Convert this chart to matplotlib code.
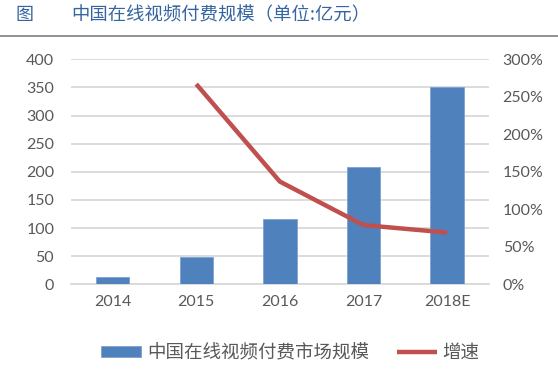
import matplotlib
matplotlib.use('Agg')
import matplotlib.pyplot as plt
from matplotlib.ticker import FuncFormatter

plt.rcParams['font.family'] = ['Lato', 'Noto Sans CJK SC', 'DejaVu Sans']

years = ['2014', '2015', '2016', '2017', '2018E']
market_size = [13, 49, 116, 208, 351]     # 亿元
growth_years = ['2015', '2016', '2017', '2018E']
growth = [2.67, 1.37, 0.79, 0.69]         # 增速

fig = plt.figure(figsize=(5.58, 3.70), dpi=100)
ax = fig.add_axes([0.127, 0.2316, 0.749, 0.6081])
ax2 = ax.twinx()

x = list(range(len(years)))
ax.bar(x, market_size, width=0.4, color='#4f81bd', edgecolor='#7da3d1',
       linewidth=0.6, label='中国在线视频付费市场规模', zorder=3)
gx = [years.index(y) for y in growth_years]
ax2.plot(gx, growth, color='#c0504d', lw=3.2, solid_capstyle='butt',
         label='增速', zorder=4)

ax.set_xlim(-0.5, len(years) - 0.5)
ax.set_ylim(0, 400)
ax.set_yticks(range(0, 401, 50))
ax2.set_ylim(0, 3)
ax2.set_yticks([0, 0.5, 1, 1.5, 2, 2.5, 3])
ax2.yaxis.set_major_formatter(FuncFormatter(lambda v, p: f'{v*100:.0f}%'))
ax.set_xticks(x)
ax.set_xticklabels(years)

ax.grid(axis='y', color='#d9d9d9', lw=1.3, zorder=0)
ax.set_axisbelow(True)
for a in (ax, ax2):
    for s in a.spines.values():
        s.set_visible(False)
    a.tick_params(length=0, labelsize=11.5, labelcolor='#595959')
ax.spines['bottom'].set_visible(True)
ax.spines['bottom'].set_color('#d9d9d9')
ax.spines['bottom'].set_linewidth(1.3)
ax.tick_params(axis='y', pad=12)
ax.tick_params(axis='x', pad=8)
ax2.tick_params(axis='y', pad=10)

h1, l1 = ax.get_legend_handles_labels()
h2, l2 = ax2.get_legend_handles_labels()
fig.legend(h1 + h2, l1 + l2, loc='center', bbox_to_anchor=(0.52, 0.048),
           ncol=2, frameon=False, fontsize=13.3, handlelength=2.2,
           handleheight=0.5, handletextpad=0.3, columnspacing=1.5,
           labelcolor='#595959')

# title
fig.text(0.027, 0.96, '图', fontsize=13, color='#3565a0',
         family=['Noto Sans CJK SC'], va='center')
fig.text(0.128, 0.96, '中国在线视频付费规模（单位:亿元）', fontsize=13.2,
         color='#3565a0', family=['Noto Sans CJK SC', 'DejaVu Sans'],
         va='center')
fig.add_artist(plt.Line2D([0, 1], [0.903, 0.903], transform=fig.transFigure,
                          color='#7f7f7f', lw=1.2))

fig.savefig('out.png', dpi=100)
